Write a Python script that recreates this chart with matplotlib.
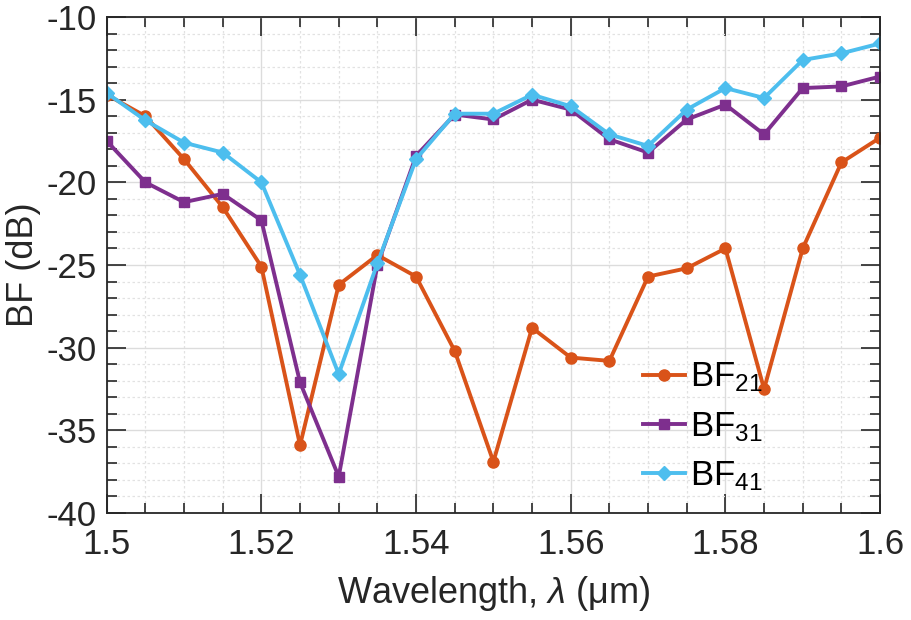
import numpy as np
import matplotlib
matplotlib.use("Agg")
import matplotlib.pyplot as plt
from matplotlib.ticker import MultipleLocator, FormatStrFormatter

plt.rcParams['font.family'] = ['Liberation Sans', 'DejaVu Sans']
plt.rcParams['mathtext.fontset'] = 'custom'
plt.rcParams['mathtext.rm'] = 'Liberation Sans'
plt.rcParams['mathtext.it'] = 'Liberation Sans:italic'
plt.rcParams['axes.unicode_minus'] = False

wavelength = [1.500, 1.505, 1.510, 1.515, 1.520, 1.525, 1.530, 1.535, 1.540, 1.545, 1.550,
              1.555, 1.560, 1.565, 1.570, 1.575, 1.580, 1.585, 1.590, 1.595, 1.600]
bf21 = [-14.7, -16.0, -18.6, -21.5, -25.1, -35.9, -26.2, -24.4, -25.7, -30.2, -36.9,
        -28.8, -30.6, -30.8, -25.7, -25.2, -24.0, -32.5, -24.0, -18.8, -17.3]
bf31 = [-17.5, -20.0, -21.2, -20.7, -22.3, -32.1, -37.8, -25.0, -18.4, -15.9, -16.2,
        -15.0, -15.6, -17.4, -18.2, -16.2, -15.3, -17.1, -14.3, -14.2, -13.6]
bf41 = [-14.6, -16.25, -17.6, -18.2, -20.0, -25.6, -31.6, -24.9, -18.6, -15.85, -15.85,
        -14.7, -15.4, -17.1, -17.8, -15.6, -14.3, -14.9, -12.6, -12.2, -11.6]

txt = '#262626'
fig = plt.figure(figsize=(9.12, 6.2), dpi=100)
ax = fig.add_axes([0.117, 0.1726, 0.848, 0.80])

ax.plot(wavelength, bf21, '-o', color='#D95319', lw=2.8, ms=8, label=r'BF$_{21}$')
ax.plot(wavelength, bf31, '-s', color='#7E2F8E', lw=2.8, ms=7, label=r'BF$_{31}$')
ax.plot(wavelength, bf41, '-D', color='#4DBEEE', lw=2.8, ms=7, label=r'BF$_{41}$')

ax.set_xlim(1.5, 1.6)
ax.set_ylim(-40, -10)
ax.xaxis.set_major_locator(MultipleLocator(0.02))
ax.xaxis.set_minor_locator(MultipleLocator(0.005))
ax.yaxis.set_major_locator(MultipleLocator(5))
ax.yaxis.set_minor_locator(MultipleLocator(1))
ax.xaxis.set_major_formatter(FormatStrFormatter('%g'))
ax.yaxis.set_major_formatter(FormatStrFormatter('%g'))

ax.grid(which='major', color='#dcdcdc', lw=1.0, ls='-')
ax.grid(which='minor', color='#e2e2e2', lw=0.9, ls=(0, (2, 2)))
ax.set_axisbelow(True)

ax.tick_params(which='both', direction='in', top=True, right=True, colors=txt,
               labelsize=25, width=1.2)
ax.tick_params(which='major', length=14)
ax.tick_params(axis='x', which='major', pad=11)
ax.tick_params(axis='y', which='major', pad=7)
ax.tick_params(which='minor', length=7)
for s in ax.spines.values():
    s.set_color(txt)
    s.set_linewidth(1.3)

ax.set_xlabel(r'Wavelength, $\lambda$ (μm)', fontsize=26, color=txt, labelpad=9)
ax.set_ylabel('BF (dB)', fontsize=26, color=txt, labelpad=4)

ax.legend(loc='lower left', bbox_to_anchor=(0.671, 0.005), frameon=False, fontsize=25,
          handlelength=1.2, handletextpad=0.15, labelspacing=0.45, borderpad=0)

fig.savefig('out.png', dpi=100)
